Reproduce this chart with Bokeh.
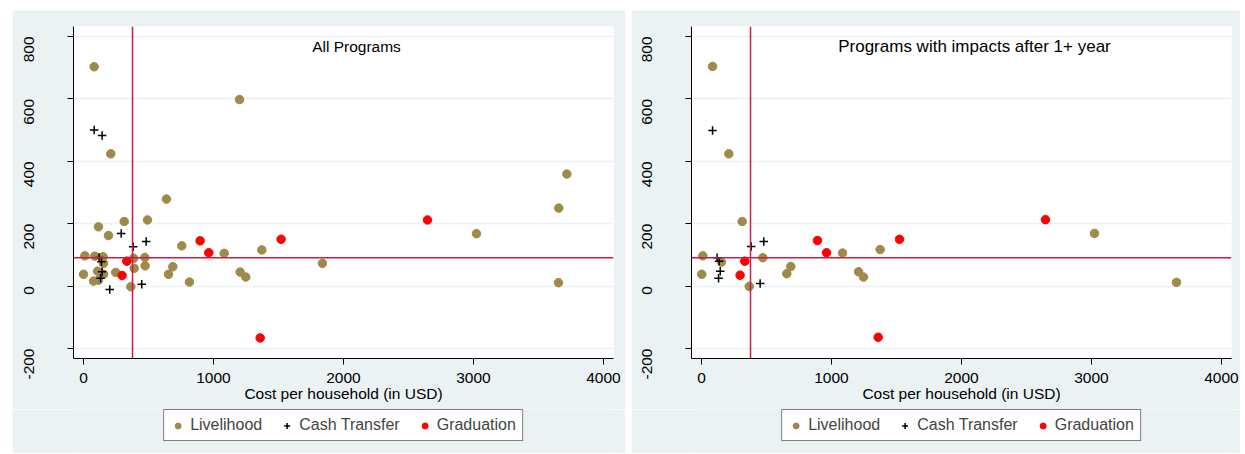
from bokeh.plotting import figure
from bokeh.models import Range1d, FixedTicker, Span, Label, Legend, LegendItem, Spacer
from bokeh.layouts import row, column
from bokeh.embed import file_html
from bokeh.resources import INLINE
import math

# ---- data: All Programs ----
liv_all_x = [82, 1200, 210, 638, 115, 313, 492, 192, 10, 87, 151, 154, 0, 108, 154, 77, 115, 248,
             364, 385, 390, 472, 474, 756, 687, 654, 815, 1082, 1205, 1248, 1372, 1838, 3023, 3656, 3654, 3718]
liv_all_y = [703, 598, 424, 279, 190, 207, 212, 162, 97, 96, 94, 73, 38, 48, 38, 16, 19, 44,
             -2, 89, 57, 92, 65, 129, 62, 38, 13, 105, 45, 29, 116, 73, 168, 250, 11, 359]
cash_all_x = [82, 143, 290, 482, 382, 120, 138, 143, 131, 202, 448]
cash_all_y = [500, 483, 169, 143, 126, 92, 78, 46, 25, -11, 6]
grad_all_x = [333, 297, 897, 964, 1520, 1359, 2646]
grad_all_y = [80, 34, 145, 107, 150, -166, 212]

# ---- data: Programs with impacts after 1+ year ----
liv_1y_x = [85, 210, 313, 10, 154, 2, 367, 472, 687, 656, 1085, 1208, 1246, 1374, 3023, 3654]
liv_1y_y = [704, 424, 207, 97, 77, 38, -1, 91, 63, 40, 106, 46, 29, 117, 169, 12]
cash_1y_x = [85, 120, 136, 144, 131, 382, 479, 451]
cash_1y_y = [499, 91, 80, 48, 25, 127, 143, 8]
grad_1y_x = [333, 297, 892, 962, 1523, 1359, 2646]
grad_1y_y = [80, 35, 146, 107, 150, -164, 213]

mean_cost = 377
mean_impact = 91

x_ticks = [0, 1000, 2000, 3000, 4000]
y_ticks = [-200, 0, 200, 400, 600, 800]

panel_titles = ["All Programs", "Programs with impacts after 1+ year"]
series_names = ["Livelihood", "Cash Transfer", "Graduation"]

FONT = "Liberation Sans"
BG = "#EAF2F3"
LIV_COLOR = "#9F8A4C"
GRAD_COLOR = "#FF0000"
REF_COLOR = "#C81E46"
FS = "15.5px"


def style_markers(p, lx, ly, cx, cy, gx, gy):
    r1 = p.scatter(lx, ly, marker="circle", size=8.5, fill_color=LIV_COLOR, line_color=LIV_COLOR)
    r2 = p.scatter(cx, cy, marker="cross", size=8.5, line_color="black", line_width=1.5)
    r3 = p.scatter(gx, gy, marker="circle", size=8.5, fill_color=GRAD_COLOR, line_color=GRAD_COLOR)
    return r1, r2, r3


def make_panel(title, title_size, lx, ly, cx, cy, gx, gy, width, bl, br):
    p = figure(width=width, height=399, output_backend="svg", toolbar_location=None,
               x_range=Range1d(-77, 4077), y_range=Range1d(-232, 832),
               min_border_left=bl, min_border_right=br, min_border_top=16, min_border_bottom=51)
    p.background_fill_color = "white"
    p.border_fill_color = BG
    p.outline_line_color = None

    p.xgrid.grid_line_color = None
    p.ygrid.grid_line_color = BG
    p.ygrid.grid_line_width = 1.5
    p.ygrid.ticker = FixedTicker(ticks=y_ticks)

    p.xaxis.ticker = FixedTicker(ticks=x_ticks)
    p.yaxis.ticker = FixedTicker(ticks=y_ticks)
    p.yaxis.major_label_overrides = {t: str(t) for t in y_ticks}
    for ax in (p.xaxis[0], p.yaxis[0]):
        ax.axis_line_color = "black"
        ax.axis_line_width = 1
        ax.major_tick_line_color = "black"
        ax.major_tick_out = 6
        ax.major_tick_in = 0
        ax.minor_tick_line_color = None
        ax.major_label_text_font = FONT
        ax.major_label_text_font_size = FS
        ax.major_label_text_color = "black"
    p.yaxis.major_label_orientation = math.pi / 2
    p.yaxis.major_label_standoff = 38
    p.xaxis.major_label_standoff = 8
    p.xaxis.axis_label = "Cost per household (in USD)"
    p.xaxis.axis_label_text_font = FONT
    p.xaxis.axis_label_text_font_size = FS
    p.xaxis.axis_label_text_font_style = "normal"
    p.xaxis.axis_label_text_color = "black"
    p.xaxis.axis_label_standoff = -1

    p.add_layout(Span(location=mean_cost, dimension="height", line_color=REF_COLOR, line_width=1.5))
    p.add_layout(Span(location=mean_impact, dimension="width", line_color=REF_COLOR, line_width=1.5))

    style_markers(p, lx, ly, cx, cy, gx, gy)

    p.add_layout(Label(x=2100, y=768, text=title, text_align="center", text_baseline="middle",
                       text_font=FONT, text_font_size=title_size, text_color="black"))
    return p


def make_legend_fig(width, bl, br, lx, ly, cx, cy, gx, gy):
    # ranges chosen so that no data point falls inside the (hidden) frame
    f = figure(width=width, height=44, output_backend="svg", toolbar_location=None,
               x_range=Range1d(-10000, -9000), y_range=Range1d(-10000, -9000),
               x_axis_location=None, y_axis_location=None,
               min_border_left=bl, min_border_right=br, min_border_top=0, min_border_bottom=0)
    f.background_fill_color = BG
    f.border_fill_color = BG
    f.outline_line_color = None
    f.xgrid.grid_line_color = None
    f.ygrid.grid_line_color = None
    r1, r2, r3 = style_markers(f, lx, ly, cx, cy, gx, gy)
    legend = Legend(items=[LegendItem(label=series_names[0], renderers=[r1]),
                           LegendItem(label=series_names[1], renderers=[r2]),
                           LegendItem(label=series_names[2], renderers=[r3])],
                    orientation="horizontal", location="top_center",
                    glyph_width=15, glyph_height=15, label_standoff=5, spacing=17,
                    padding=6, margin=0, label_text_font=FONT, label_text_font_size="16px",
                    label_height=17, border_line_color="black", border_line_width=1,
                    background_fill_color="white", background_fill_alpha=1)
    f.add_layout(legend)
    return f


p1 = make_panel(panel_titles[0], FS, liv_all_x, liv_all_y, cash_all_x, cash_all_y, grad_all_x, grad_all_y,
                613, 61, 12)
l1 = make_legend_fig(613, 61, 12, liv_all_x, liv_all_y, cash_all_x, cash_all_y, grad_all_x, grad_all_y)
p2 = make_panel(panel_titles[1], "17px", liv_1y_x, liv_1y_y, cash_1y_x, cash_1y_y, grad_1y_x, grad_1y_y,
                609, 60, 9)
l2 = make_legend_fig(609, 60, 9, liv_1y_x, liv_1y_y, cash_1y_x, cash_1y_y, grad_1y_x, grad_1y_y)

layout = column(Spacer(width=1240, height=10),
                row(Spacer(width=12, height=443), column(p1, l1),
                    Spacer(width=6, height=443), column(p2, l2)))
open("out.html", "w").write(file_html(layout, INLINE))
